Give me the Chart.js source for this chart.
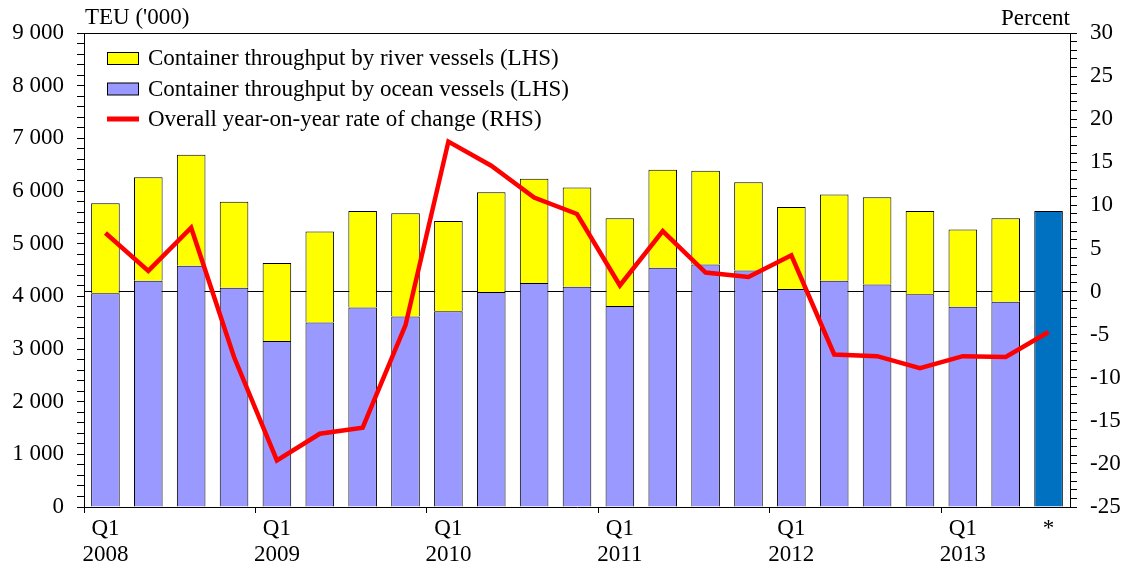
<!DOCTYPE html>
<html>
<head>
<meta charset="utf-8">
<script src="https://cdn.jsdelivr.net/npm/chart.js@4.4.1/dist/chart.umd.min.js"></script>
<style>
  html, body { margin: 0; padding: 0; background: #fff; }
  #grafico { display: block; }
</style>
</head>
<body>
<canvas id="grafico" width="1126" height="569"></canvas>
<script>
// ---- datos ----
const trimestres = ['2008 Q1','2008 Q2','2008 Q3','2008 Q4','2009 Q1','2009 Q2','2009 Q3','2009 Q4',
                    '2010 Q1','2010 Q2','2010 Q3','2010 Q4','2011 Q1','2011 Q2','2011 Q3','2011 Q4',
                    '2012 Q1','2012 Q2','2012 Q3','2012 Q4','2013 Q1','2013 Q2','*'];
const etiquetasX = [['Q1','2008'],'','','',['Q1','2009'],'','','',['Q1','2010'],'','','',
                    ['Q1','2011'],'','','',['Q1','2012'],'','','',['Q1','2013'],'','*'];
// TEU ('000)
const oceanicos = [4060, 4295, 4581, 4162, 3150, 3502, 3786, 3616, 3717, 4080, 4251, 4180,
                   3816, 4543, 4606, 4492, 4137, 4295, 4225, 4040, 3803, 3899, null];
const fluviales = [1708, 1968, 2108, 1632, 1482, 1727, 1836, 1962, 1715, 1898, 1981, 1887,
                   1667, 1860, 1778, 1676, 1561, 1638, 1658, 1582, 1464, 1584, null];
const totalReciente = [null, null, null, null, null, null, null, null, null, null, null, null,
                       null, null, null, null, null, null, null, null, null, null, 5622];
// Percent
const variacion = [6.8, 2.4, 7.4, -7.6, -19.6, -16.5, -15.8, -3.9, 17.4, 14.6, 10.9, 9.0,
                   0.7, 7.0, 2.2, 1.7, 4.2, -7.3, -7.5, -8.9, -7.5, -7.6, -4.7];

const leyenda = [
  { texto: 'Container throughput by river vessels (LHS)', color: '#FFFF00', tipo: 'caja' },
  { texto: 'Container throughput by ocean vessels (LHS)', color: '#9999FF', tipo: 'caja' },
  { texto: 'Overall year-on-year rate of change (RHS)', color: '#FF0000', tipo: 'linea' }
];

const FUENTE = 'Liberation Serif, Times New Roman, serif';
const TAM = 23;

// ---- marco, titulos de ejes y leyenda ----
const extras = {
  id: 'extras',
  afterDraw(chart) {
    const ctx = chart.ctx;
    const a = chart.chartArea;
    ctx.save();
    ctx.strokeStyle = '#000';
    ctx.lineWidth = 1;
    ctx.beginPath();
    ctx.moveTo(a.left, a.top + 0.5);
    ctx.lineTo(a.right, a.top + 0.5);
    ctx.stroke();

    ctx.fillStyle = '#000';
    ctx.font = TAM + 'px ' + FUENTE;
    ctx.textBaseline = 'alphabetic';
    ctx.textAlign = 'left';
    ctx.fillText("TEU ('000)", 85, 24);
    ctx.textAlign = 'right';
    ctx.fillText('Percent', 1070, 25);

    ctx.textAlign = 'left';
    leyenda.forEach((it, i) => {
      const base = 65 + i * 30.5;
      if (it.tipo === 'caja') {
        ctx.fillStyle = it.color;
        ctx.fillRect(107, base - 12.5, 31, 12);
        ctx.strokeStyle = '#000';
        ctx.lineWidth = 1;
        ctx.strokeRect(107.5, base - 12.5, 31, 12);
      } else {
        ctx.strokeStyle = it.color;
        ctx.lineWidth = 5;
        ctx.beginPath();
        ctx.moveTo(107, base - 7);
        ctx.lineTo(139, base - 7);
        ctx.stroke();
      }
      ctx.fillStyle = '#000';
      ctx.fillText(it.texto, 148, base);
    });
    ctx.restore();
  }
};

const ctx = document.getElementById('grafico').getContext('2d');
new Chart(ctx, {
  data: {
    labels: etiquetasX,
    datasets: [
      { type: 'line', label: 'Overall year-on-year rate of change (RHS)', data: variacion, yAxisID: 'y1',
        borderColor: '#FF0000', borderWidth: 4.5, pointRadius: 0, tension: 0, order: 0 },
      { type: 'bar', label: 'Container throughput by ocean vessels (LHS)', data: oceanicos, yAxisID: 'y',
        backgroundColor: '#9999FF', borderColor: '#000', borderWidth: 1, order: 1,
        barPercentage: 0.667, categoryPercentage: 1 },
      { type: 'bar', label: 'Container throughput by river vessels (LHS)', data: fluviales, yAxisID: 'y',
        backgroundColor: '#FFFF00', borderColor: '#000', borderWidth: 1, order: 1,
        barPercentage: 0.667, categoryPercentage: 1 },
      { type: 'bar', label: 'Latest', data: totalReciente, yAxisID: 'y',
        backgroundColor: '#0070C0', borderColor: '#000', borderWidth: 1, order: 1,
        barPercentage: 0.667, categoryPercentage: 1 }
    ]
  },
  options: {
    responsive: false,
    animation: false,
    layout: { padding: { top: 33, left: 0, right: 0, bottom: 0 } },
    plugins: { legend: { display: false }, tooltip: { enabled: false } },
    scales: {
      x: {
        stacked: true,
        grid: {
          offset: true, drawOnChartArea: false, tickLength: 6, lineWidth: 1,
          tickColor: (c) => (c.index !== undefined && c.index % 4 === 0 && c.index < 22) ? '#000' : 'rgba(0,0,0,0)'
        },
        border: { color: '#000', width: 1 },
        ticks: { autoSkip: false, maxRotation: 0, padding: 3, color: '#000',
                 font: { family: FUENTE, size: TAM, lineHeight: 1.13 } },
        afterFit: (s) => { s.height = 62; }
      },
      y: {
        position: 'left', stacked: true, min: 0, max: 9000,
        grid: { drawOnChartArea: false, tickLength: 7, tickColor: '#000' },
        border: { color: '#000', width: 1 },
        ticks: {
          stepSize: 200, maxTicksLimit: 100, autoSkip: false, padding: 13, color: '#000',
          font: { family: FUENTE, size: TAM },
          callback: (v) => v % 1000 === 0 ? (v === 0 ? '0' : (v / 1000) + ' 000') : ''
        },
        afterFit: (s) => { s.width = 84; }
      },
      y1: {
        position: 'right', stacked: false, min: -25, max: 30,
        grid: {
          drawOnChartArea: true, tickLength: 7, tickColor: '#000', lineWidth: 1,
          color: (c) => (c.tick && c.tick.value === 0) ? '#000' : 'rgba(0,0,0,0)'
        },
        border: { color: '#000', width: 1 },
        ticks: {
          stepSize: 1, maxTicksLimit: 100, autoSkip: false, padding: 13, color: '#000',
          font: { family: FUENTE, size: TAM },
          callback: (v) => v % 5 === 0 ? String(v) : ''
        },
        afterFit: (s) => { s.width = 56; }
      }
    }
  },
  plugins: [extras]
});
</script>
</body>
</html>
